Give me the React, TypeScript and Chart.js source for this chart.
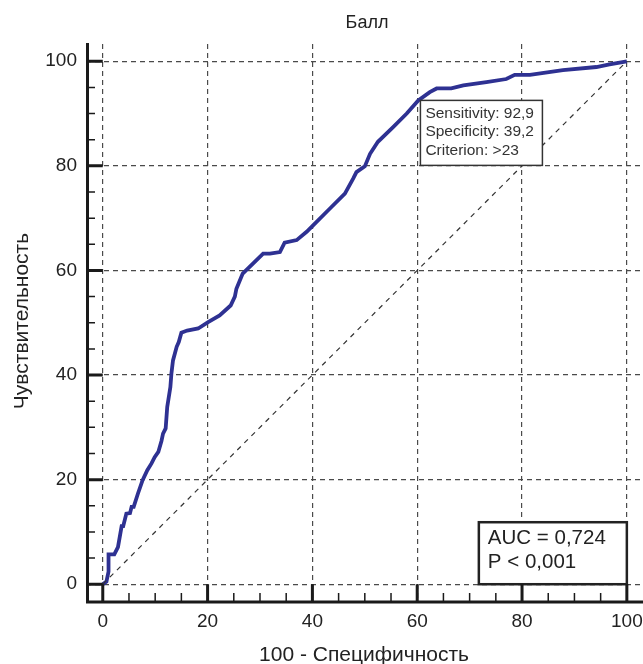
import React, { useEffect, useRef } from "react";
import { Chart, registerables } from "chart.js";

Chart.register(...registerables);

const chartTitle = "Балл";
const xTitle = "100 - Специфичность";
const yTitle = "Чувствительность";
const tickValues = [0, 20, 40, 60, 80, 100];
const minorValues = [5, 10, 15, 25, 30, 35, 45, 50, 55, 65, 70, 75, 85, 90, 95];

// ROC curve: x = 100 - specificity, y = sensitivity
const fpr = [
  0, 0.7, 1.1, 1.1, 2.2, 2.9, 3.6, 3.9, 4.5, 5.2, 5.5, 5.9, 6.7, 7.6, 8.5, 9.3, 9.9, 10.6,
  11.2, 11.5, 12.0, 12.3, 12.9, 13.1, 13.4, 14.1, 14.5, 15.0, 16.1, 18.2, 20.1, 22.3, 24.4,
  25.2, 25.5, 26.7, 30.6, 31.9, 33.8, 34.7, 37.0, 38.9, 39.8, 43.3, 46.2, 47.8, 48.4, 50.0,
  51.0, 52.5, 55.4, 58.0, 60.2, 62.4, 63.7, 66.5, 68.8, 73.2, 77.0, 78.6, 81.5, 87.8, 94.2,
  96.7, 100,
];
const tpr = [
  0, 0.5, 2.4, 5.7, 5.7, 7.1, 11.1, 11.1, 13.5, 13.6, 14.8, 14.8, 17.3, 19.9, 21.8, 23.1,
  24.3, 25.3, 27.4, 28.8, 29.8, 33.9, 37.7, 40.3, 42.8, 45.4, 46.3, 48.1, 48.5, 48.9, 50.1,
  51.4, 53.3, 55.0, 56.5, 59.4, 63.2, 63.2, 63.5, 65.3, 65.8, 67.4, 68.3, 71.8, 74.7, 77.6,
  78.8, 79.9, 82.3, 84.6, 87.4, 90.0, 92.5, 94.1, 94.8, 94.8, 95.4, 96.0, 96.6, 97.4, 97.4,
  98.3, 98.9, 99.4, 100,
];
const diagonalX = [0, 100];
const diagonalY = [0, 100];

const cutoffSensitivity = 92.9;
const cutoffSpecificity = 39.2;
const infoLines = ["Sensitivity: 92,9", "Specificity: 39,2", "Criterion: >23"];
const aucLines = ["AUC = 0,724", "P < 0,001"];

const FONT = '"Liberation Sans", Arial, sans-serif';

const decorPlugin = {
  id: "decor",
  afterDatasetsDraw(chart: any) {
    const { ctx, scales } = chart;
    const x = scales.x;
    const y = scales.y;
    ctx.save();
    // cutoff info box
    const bx = x.getPixelForValue(100 - cutoffSpecificity) - 1;
    const by = y.getPixelForValue(cutoffSensitivity) + 2;
    const bw = 122;
    const bh = 65;
    ctx.fillStyle = "#fff";
    ctx.fillRect(bx, by, bw, bh);
    ctx.strokeStyle = "#333";
    ctx.lineWidth = 1.5;
    ctx.strokeRect(bx, by, bw, bh);
    ctx.fillStyle = "#333";
    ctx.font = `15.5px ${FONT}`;
    ctx.textAlign = "left";
    ctx.textBaseline = "middle";
    infoLines.forEach((t, i) => ctx.fillText(t, bx + 5, by + 13 + i * 18.7));

    // AUC box
    const ax2 = x.getPixelForValue(100);
    const ay2 = y.getPixelForValue(0);
    const aw = 148;
    const ah = 62;
    ctx.fillStyle = "#fff";
    ctx.fillRect(ax2 - aw, ay2 - ah, aw, ah);
    ctx.strokeStyle = "#222";
    ctx.lineWidth = 2.5;
    ctx.strokeRect(ax2 - aw, ay2 - ah, aw, ah);
    ctx.fillStyle = "#222";
    ctx.font = `20.5px ${FONT}`;
    aucLines.forEach((t, i) => ctx.fillText(t, ax2 - aw + 9, ay2 - ah + 16 + i * 24.5));
    ctx.restore();
  },
  afterDraw(chart: any) {
    const { ctx, chartArea: ca, scales } = chart;
    const x = scales.x;
    const y = scales.y;
    ctx.save();
    ctx.strokeStyle = "#1a1a1a";
    ctx.lineCap = "butt";
    // axis lines
    ctx.lineWidth = 3;
    ctx.beginPath();
    ctx.moveTo(ca.left + 1.5, ca.top - 1);
    ctx.lineTo(ca.left + 1.5, ca.bottom + 1.5);
    ctx.moveTo(ca.left, ca.bottom);
    ctx.lineTo(chart.width, ca.bottom);
    ctx.stroke();
    // major ticks
    const x0 = x.getPixelForValue(0);
    const y0 = y.getPixelForValue(0);
    ctx.lineWidth = 3;
    ctx.beginPath();
    tickValues.forEach((v) => {
      const py = y.getPixelForValue(v);
      ctx.moveTo(ca.left, py);
      ctx.lineTo(x0, py);
      const px = x.getPixelForValue(v);
      ctx.moveTo(px, ca.bottom);
      ctx.lineTo(px, y0);
    });
    ctx.stroke();
    // minor ticks
    ctx.lineWidth = 1.5;
    ctx.beginPath();
    minorValues.forEach((v) => {
      const py = y.getPixelForValue(v);
      ctx.moveTo(ca.left, py);
      ctx.lineTo(ca.left + 9, py);
      const px = x.getPixelForValue(v);
      ctx.moveTo(px, ca.bottom);
      ctx.lineTo(px, ca.bottom - 9);
    });
    ctx.stroke();

    // titles
    ctx.fillStyle = "#222";
    ctx.textAlign = "center";
    ctx.textBaseline = "middle";
    const cx = (ca.left + ca.right) / 2;
    ctx.font = `18px ${FONT}`;
    ctx.fillText(chartTitle, 367, 23);
    ctx.font = `21px ${FONT}`;
    ctx.fillText(xTitle, 364, 655);
    ctx.save();
    ctx.translate(22, 321);
    ctx.rotate(-Math.PI / 2);
    ctx.fillText(yTitle, 0, 0);
    ctx.restore();
    ctx.restore();
  },
};

export default function App() {
  const ref = useRef<HTMLCanvasElement | null>(null);

  useEffect(() => {
    if (!ref.current) return;
    const curve = fpr.map((v, i) => ({ x: v, y: tpr[i] }));
    const diag = diagonalX.map((v, i) => ({ x: v, y: diagonalY[i] }));
    const tickFont = { family: FONT, size: 19 };
    const chart = new Chart(ref.current, {
      type: "scatter",
      data: {
        datasets: [
          {
            data: diag,
            showLine: true,
            borderColor: "#333",
            borderWidth: 1.2,
            borderDash: [5, 5],
            pointRadius: 0,
          },
          {
            data: curve,
            showLine: true,
            borderColor: "#2E3192",
            borderWidth: 3.8,
            pointRadius: 0,
            tension: 0,
          },
        ],
      },
      options: {
        animation: false,
        responsive: true,
        maintainAspectRatio: false,
        layout: { padding: { top: 44, right: 2, bottom: 0, left: 0 } },
        plugins: { legend: { display: false }, tooltip: { enabled: false }, title: { display: false } },
        scales: {
          x: {
            type: "linear",
            min: -3.2,
            max: 102.7,
            afterBuildTicks: (s: any) => {
              s.ticks = tickValues.map((v) => ({ value: v }));
            },
            afterFit: (s: any) => {
              s.height = 62;
              s.paddingLeft = 0;
              s.paddingRight = 0;
            },
            grid: { color: "#4a4a4a", lineWidth: 1.2, drawTicks: false },
            border: { display: false, dash: [5, 4] },
            ticks: { font: tickFont, color: "#222", padding: 8, autoSkip: false, maxRotation: 0 },
          },
          y: {
            type: "linear",
            min: -3.4,
            max: 103.3,
            afterBuildTicks: (s: any) => {
              s.ticks = tickValues.map((v) => ({ value: v }));
            },
            afterFit: (s: any) => {
              s.width = 86;
              s.paddingTop = 0;
              s.paddingBottom = 0;
            },
            grid: { color: "#4a4a4a", lineWidth: 1.2, drawTicks: false },
            border: { display: false, dash: [5, 4] },
            ticks: { font: tickFont, color: "#222", padding: 9, autoSkip: false },
          },
        },
      },
      plugins: [decorPlugin],
    });
    return () => chart.destroy();
  }, []);

  return (
    <div style={{ position: "fixed", left: 0, top: 0, width: 643, height: 664, background: "#fff" }}>
      <canvas ref={ref} />
    </div>
  );
}
